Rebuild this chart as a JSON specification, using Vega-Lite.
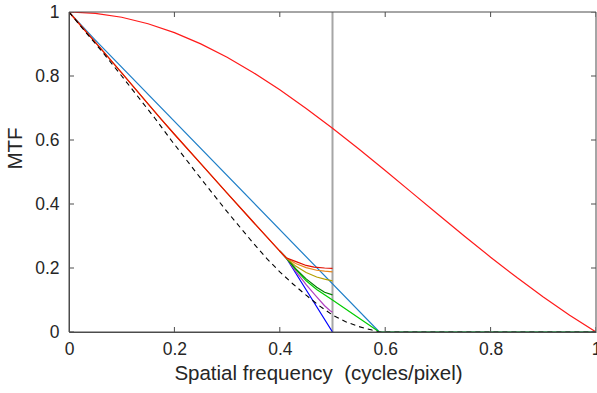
{
  "$schema": "https://vega.github.io/schema/vega-lite/v6.json",
  "width": 527,
  "height": 320,
  "autosize": "none",
  "padding": {"left": 69, "top": 12, "right": 1, "bottom": 61},
  "background": "white",
  "config": {
    "view": {"stroke": null},
    "font": "Liberation Sans",
    "axis": {
      "domain": true,
      "domainColor": "#4d4d4d",
      "ticks": false,
      "grid": false,
      "labelFlush": false,
      "labelFont": "Liberation Sans",
      "labelFontSize": 17.5,
      "labelColor": "#262626",
      "titleFont": "Liberation Sans",
      "titleFontSize": 20.5,
      "titleFontWeight": "normal",
      "titleColor": "#262626"
    }
  },
  "datasets": {
    "curves": [
      {"s": "lightblue", "x": 0, "y": 1},
      {"s": "lightblue", "x": 0.05, "y": 0.912},
      {"s": "lightblue", "x": 0.589, "y": 0},
      {"s": "lightblue", "x": 1, "y": 0},

      {"s": "blue", "x": 0.4, "y": 0.253},
      {"s": "blue", "x": 0.412, "y": 0.232},
      {"s": "blue", "x": 0.5, "y": 0},

      {"s": "magenta", "x": 0.4, "y": 0.253},
      {"s": "magenta", "x": 0.412, "y": 0.232},
      {"s": "magenta", "x": 0.43, "y": 0.19},
      {"s": "magenta", "x": 0.45, "y": 0.148},
      {"s": "magenta", "x": 0.47, "y": 0.11},
      {"s": "magenta", "x": 0.485, "y": 0.082},
      {"s": "magenta", "x": 0.495, "y": 0.067},
      {"s": "magenta", "x": 0.5, "y": 0.062},

      {"s": "green", "x": 0.4, "y": 0.253},
      {"s": "green", "x": 0.412, "y": 0.232},
      {"s": "green", "x": 0.43, "y": 0.196},
      {"s": "green", "x": 0.45, "y": 0.16},
      {"s": "green", "x": 0.47, "y": 0.133},
      {"s": "green", "x": 0.5, "y": 0.1},
      {"s": "green", "x": 0.55, "y": 0.044},
      {"s": "green", "x": 0.589, "y": 0},
      {"s": "green", "x": 1, "y": 0},

      {"s": "darkgreen", "x": 0.4, "y": 0.253},
      {"s": "darkgreen", "x": 0.412, "y": 0.232},
      {"s": "darkgreen", "x": 0.43, "y": 0.198},
      {"s": "darkgreen", "x": 0.45, "y": 0.166},
      {"s": "darkgreen", "x": 0.47, "y": 0.14},
      {"s": "darkgreen", "x": 0.485, "y": 0.124},
      {"s": "darkgreen", "x": 0.5, "y": 0.116},

      {"s": "olive", "x": 0.4, "y": 0.253},
      {"s": "olive", "x": 0.412, "y": 0.232},
      {"s": "olive", "x": 0.43, "y": 0.206},
      {"s": "olive", "x": 0.45, "y": 0.186},
      {"s": "olive", "x": 0.47, "y": 0.172},
      {"s": "olive", "x": 0.485, "y": 0.165},
      {"s": "olive", "x": 0.5, "y": 0.16},

      {"s": "orange", "x": 0, "y": 1},
      {"s": "orange", "x": 0.03, "y": 0.943},
      {"s": "orange", "x": 0.06, "y": 0.886},
      {"s": "orange", "x": 0.1, "y": 0.81},
      {"s": "orange", "x": 0.15, "y": 0.713},
      {"s": "orange", "x": 0.176, "y": 0.663},
      {"s": "orange", "x": 0.2, "y": 0.618},
      {"s": "orange", "x": 0.25, "y": 0.526},
      {"s": "orange", "x": 0.3, "y": 0.434},
      {"s": "orange", "x": 0.35, "y": 0.343},
      {"s": "orange", "x": 0.4, "y": 0.253},
      {"s": "orange", "x": 0.412, "y": 0.232},
      {"s": "orange", "x": 0.43, "y": 0.214},
      {"s": "orange", "x": 0.45, "y": 0.201},
      {"s": "orange", "x": 0.47, "y": 0.193},
      {"s": "orange", "x": 0.485, "y": 0.19},
      {"s": "orange", "x": 0.5, "y": 0.188},

      {"s": "red", "x": 0, "y": 1},
      {"s": "red", "x": 0.03, "y": 0.943},
      {"s": "red", "x": 0.06, "y": 0.886},
      {"s": "red", "x": 0.1, "y": 0.81},
      {"s": "red", "x": 0.15, "y": 0.713},
      {"s": "red", "x": 0.176, "y": 0.663},
      {"s": "red", "x": 0.2, "y": 0.618},
      {"s": "red", "x": 0.25, "y": 0.526},
      {"s": "red", "x": 0.3, "y": 0.434},
      {"s": "red", "x": 0.35, "y": 0.343},
      {"s": "red", "x": 0.4, "y": 0.253},
      {"s": "red", "x": 0.412, "y": 0.232},
      {"s": "red", "x": 0.432, "y": 0.219},
      {"s": "red", "x": 0.45, "y": 0.208},
      {"s": "red", "x": 0.465, "y": 0.203},
      {"s": "red", "x": 0.485, "y": 0.2},
      {"s": "red", "x": 0.5, "y": 0.199},

      {"s": "sinc", "x": 0, "y": 1},
      {"s": "sinc", "x": 0.05, "y": 0.99589},
      {"s": "sinc", "x": 0.1, "y": 0.98363},
      {"s": "sinc", "x": 0.15, "y": 0.9634},
      {"s": "sinc", "x": 0.2, "y": 0.93549},
      {"s": "sinc", "x": 0.25, "y": 0.90032},
      {"s": "sinc", "x": 0.3, "y": 0.85839},
      {"s": "sinc", "x": 0.35, "y": 0.81033},
      {"s": "sinc", "x": 0.4, "y": 0.75683},
      {"s": "sinc", "x": 0.45, "y": 0.69865},
      {"s": "sinc", "x": 0.5, "y": 0.63662},
      {"s": "sinc", "x": 0.55, "y": 0.57162},
      {"s": "sinc", "x": 0.6, "y": 0.50455},
      {"s": "sinc", "x": 0.65, "y": 0.43633},
      {"s": "sinc", "x": 0.7, "y": 0.36788},
      {"s": "sinc", "x": 0.75, "y": 0.30011},
      {"s": "sinc", "x": 0.8, "y": 0.23387},
      {"s": "sinc", "x": 0.85, "y": 0.17001},
      {"s": "sinc", "x": 0.9, "y": 0.10929},
      {"s": "sinc", "x": 0.95, "y": 0.05242},
      {"s": "sinc", "x": 1, "y": 0}
    ],
    "dashed": [
      {"x": 0, "y": 1},
      {"x": 0.03, "y": 0.94},
      {"x": 0.062, "y": 0.878},
      {"x": 0.1, "y": 0.8},
      {"x": 0.163, "y": 0.668},
      {"x": 0.195, "y": 0.597},
      {"x": 0.25, "y": 0.48},
      {"x": 0.3, "y": 0.376},
      {"x": 0.35, "y": 0.277},
      {"x": 0.375, "y": 0.23},
      {"x": 0.4, "y": 0.188},
      {"x": 0.425, "y": 0.15},
      {"x": 0.45, "y": 0.115},
      {"x": 0.475, "y": 0.082},
      {"x": 0.5, "y": 0.053},
      {"x": 0.525, "y": 0.032},
      {"x": 0.55, "y": 0.017},
      {"x": 0.575, "y": 0.006},
      {"x": 0.59, "y": 0},
      {"x": 1, "y": 0}
    ],
    "vline": [{"x": 0.5}],
    "ticks": [{"v": 0}, {"v": 0.2}, {"v": 0.4}, {"v": 0.6}, {"v": 0.8}, {"v": 1}]
  },
  "layer": [
    {
      "data": {"name": "vline"},
      "mark": {"type": "rule", "color": "#A6A6A6", "strokeWidth": 2},
      "encoding": {
        "x": {"field": "x", "type": "quantitative", "scale": {"domain": [0, 1], "nice": false}}
      }
    },
    {
      "data": {"name": "curves"},
      "mark": {"type": "line", "strokeWidth": 1.2, "clip": true},
      "encoding": {
        "x": {"field": "x", "type": "quantitative", "scale": {"domain": [0, 1], "nice": false},
          "axis": {"orient": "bottom", "title": "Spatial frequency \u00a0(cycles/pixel)", "values": [0, 0.2, 0.4, 0.6, 0.8, 1], "format": "~g", "labelPadding": 8, "titlePadding": 6, "titleX": 249, "titleAlign": "center"}},
        "y": {"field": "y", "type": "quantitative", "scale": {"domain": [0, 1], "nice": false},
          "axis": {"orient": "left", "title": "MTF", "values": [0, 0.2, 0.4, 0.6, 0.8, 1], "format": "~g", "labelPadding": 10, "titlePadding": 9, "titleY": 136, "titleAlign": "center"}},
        "color": {"field": "s", "type": "nominal", "legend": null,
          "scale": {"domain": ["lightblue", "blue", "magenta", "green", "darkgreen", "olive", "orange", "red", "sinc"],
                    "range": ["#1F7FC8", "#0000FF", "#B040C0", "#00CC00", "#008000", "#B3A100", "#E8861A", "#E01000", "#FF1A1A"]}},
        "order": {"field": "x", "type": "quantitative"}
      }
    },
    {
      "data": {"name": "dashed"},
      "mark": {"type": "line", "color": "#000000", "strokeWidth": 1.1, "strokeDash": [5, 4], "clip": true},
      "encoding": {
        "x": {"field": "x", "type": "quantitative"},
        "y": {"field": "y", "type": "quantitative"}
      }
    },
    {
      "data": {"name": "ticks"},
      "transform": [{"filter": "datum.v === 0 || datum.v === 1"}],
      "mark": {"type": "rule", "color": "#4d4d4d", "strokeWidth": 1},
      "encoding": {
        "x": {"field": "v", "type": "quantitative"}
      }
    },
    {
      "data": {"name": "ticks"},
      "transform": [{"filter": "datum.v === 0 || datum.v === 1"}],
      "mark": {"type": "rule", "color": "#4d4d4d", "strokeWidth": 1},
      "encoding": {
        "y": {"field": "v", "type": "quantitative"}
      }
    },
    {
      "data": {"name": "ticks"},
      "mark": {"type": "tick", "color": "#4d4d4d", "orient": "vertical", "size": 10, "thickness": 1, "clip": true, "opacity": 1},
      "encoding": {
        "x": {"field": "v", "type": "quantitative"},
        "y": {"datum": 0, "type": "quantitative"}
      }
    },
    {
      "data": {"name": "ticks"},
      "mark": {"type": "tick", "color": "#4d4d4d", "orient": "vertical", "size": 10, "thickness": 1, "clip": true, "opacity": 1},
      "encoding": {
        "x": {"field": "v", "type": "quantitative"},
        "y": {"datum": 1, "type": "quantitative"}
      }
    },
    {
      "data": {"name": "ticks"},
      "mark": {"type": "tick", "color": "#4d4d4d", "orient": "horizontal", "size": 10, "thickness": 1, "clip": true, "opacity": 1},
      "encoding": {
        "y": {"field": "v", "type": "quantitative"},
        "x": {"datum": 0, "type": "quantitative"}
      }
    },
    {
      "data": {"name": "ticks"},
      "mark": {"type": "tick", "color": "#4d4d4d", "orient": "horizontal", "size": 10, "thickness": 1, "clip": true, "opacity": 1},
      "encoding": {
        "y": {"field": "v", "type": "quantitative"},
        "x": {"datum": 1, "type": "quantitative"}
      }
    }
  ]
}
